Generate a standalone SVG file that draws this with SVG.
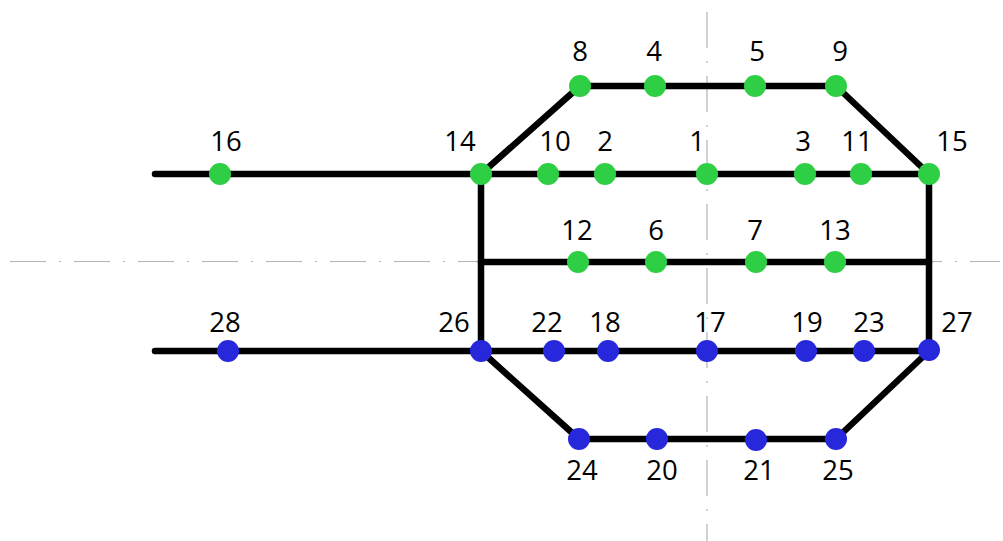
<svg xmlns="http://www.w3.org/2000/svg" width="1003" height="541" viewBox="0 0 1003 541">
  <style>
    .axis { stroke: #b4b4b4; stroke-width: 1.2; fill: none; stroke-dasharray: 36 13 2 13; }
    .track { stroke: #000; stroke-width: 6.5; fill: none; stroke-linecap: round; stroke-linejoin: round; }
    .g { fill: #2fcf45; }
    .b { fill: #2727db; }
    .lbl { font-family: "Open Sans", "Liberation Sans", sans-serif; font-size: 27.5px; fill: #000; text-anchor: middle; }
  </style>
  <rect width="1003" height="541" fill="#fff"/>

  <!-- symmetry axes -->
  <g id="axes">
    <line class="axis" x1="10" y1="261.5" x2="1000" y2="261.5"/>
    <line class="axis" x1="707" y1="12" x2="707" y2="541"/>
  </g>

  <!-- track segments -->
  <g id="connectors">
    <path class="track" d="M155 174 H929"/>
    <path class="track" d="M481 174 L580 86 H836 L929 174"/>
    <path class="track" d="M481 262 H929"/>
    <path class="track" d="M155 351 H929"/>
    <path class="track" d="M481 351 L579 439 H836 L929 351"/>
    <path class="track" d="M481 174 V351"/>
    <path class="track" d="M929 174 V351"/>
  </g>

  <!-- upper stations -->
  <g id="n8"><circle class="g" cx="580" cy="86" r="11"/><text class="lbl" x="580" y="61">8</text></g>
  <g id="n4"><circle class="g" cx="655" cy="86" r="11"/><text class="lbl" x="654" y="61">4</text></g>
  <g id="n5"><circle class="g" cx="755" cy="86" r="11"/><text class="lbl" x="757" y="61">5</text></g>
  <g id="n9"><circle class="g" cx="836" cy="86" r="11"/><text class="lbl" x="840" y="61">9</text></g>

  <g id="n16"><circle class="g" cx="220" cy="174" r="11"/><text class="lbl" x="226" y="151">16</text></g>
  <g id="n14"><circle class="g" cx="481" cy="174" r="11"/><text class="lbl" x="460" y="151">14</text></g>
  <g id="n10"><circle class="g" cx="548" cy="174" r="11"/><text class="lbl" x="555" y="151">10</text></g>
  <g id="n2"><circle class="g" cx="605" cy="174" r="11"/><text class="lbl" x="605" y="151">2</text></g>
  <g id="n1"><circle class="g" cx="707" cy="174" r="11"/><text class="lbl" x="697" y="151">1</text></g>
  <g id="n3"><circle class="g" cx="805" cy="174" r="11"/><text class="lbl" x="803" y="151">3</text></g>
  <g id="n11"><circle class="g" cx="861" cy="174" r="11"/><text class="lbl" x="857" y="151">11</text></g>
  <g id="n15"><circle class="g" cx="929" cy="174" r="11"/><text class="lbl" x="952" y="151">15</text></g>

  <g id="n12"><circle class="g" cx="578" cy="262" r="11"/><text class="lbl" x="577" y="240">12</text></g>
  <g id="n6"><circle class="g" cx="656" cy="262" r="11"/><text class="lbl" x="656" y="240">6</text></g>
  <g id="n7"><circle class="g" cx="756" cy="262" r="11"/><text class="lbl" x="755" y="240">7</text></g>
  <g id="n13"><circle class="g" cx="835" cy="262" r="11"/><text class="lbl" x="835" y="240">13</text></g>

  <!-- lower stations -->
  <g id="n28"><circle class="b" cx="228" cy="351" r="11"/><text class="lbl" x="225" y="332">28</text></g>
  <g id="n26"><circle class="b" cx="481" cy="351" r="11"/><text class="lbl" x="454" y="332">26</text></g>
  <g id="n22"><circle class="b" cx="554" cy="351" r="11"/><text class="lbl" x="547" y="332">22</text></g>
  <g id="n18"><circle class="b" cx="608" cy="351" r="11"/><text class="lbl" x="605" y="332">18</text></g>
  <g id="n17"><circle class="b" cx="707" cy="351" r="11"/><text class="lbl" x="710" y="332">17</text></g>
  <g id="n19"><circle class="b" cx="806" cy="351" r="11"/><text class="lbl" x="807" y="332">19</text></g>
  <g id="n23"><circle class="b" cx="864" cy="351" r="11"/><text class="lbl" x="869" y="332">23</text></g>
  <g id="n27"><circle class="b" cx="929" cy="350" r="11"/><text class="lbl" x="957" y="332">27</text></g>

  <g id="n24"><circle class="b" cx="579" cy="439" r="11"/><text class="lbl" x="582" y="480">24</text></g>
  <g id="n20"><circle class="b" cx="657" cy="439" r="11"/><text class="lbl" x="662" y="480">20</text></g>
  <g id="n21"><circle class="b" cx="756" cy="440" r="11"/><text class="lbl" x="759" y="480">21</text></g>
  <g id="n25"><circle class="b" cx="836" cy="439" r="11"/><text class="lbl" x="838" y="480">25</text></g>
</svg>
